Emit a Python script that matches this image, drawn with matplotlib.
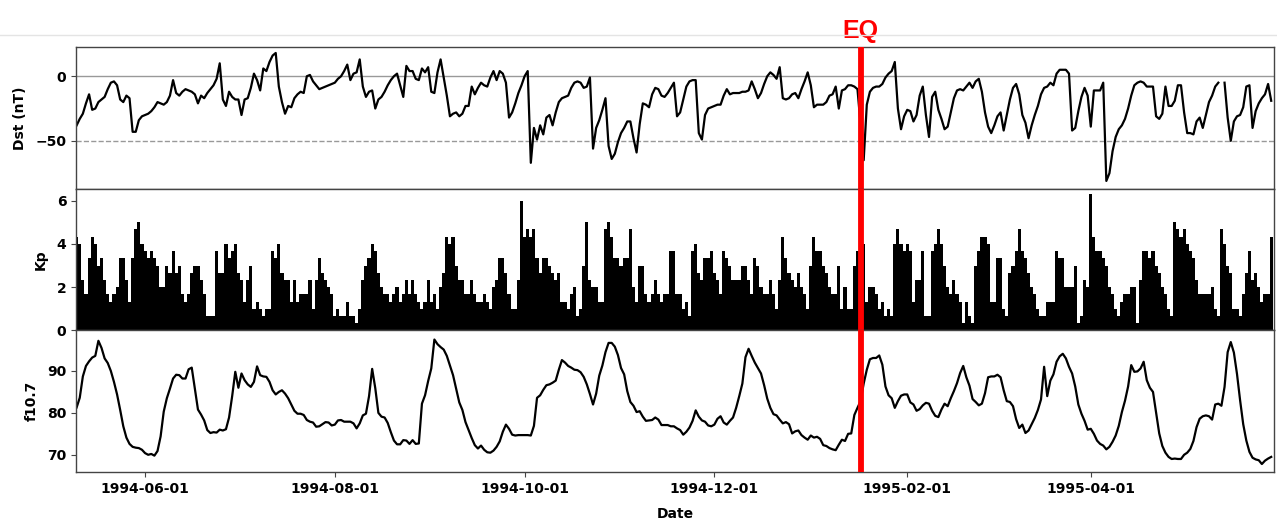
import numpy as np
import pandas as pd
import matplotlib
matplotlib.use("Agg")
import matplotlib.pyplot as plt
from matplotlib.lines import Line2D

# daily indices, starting 1994-05-10
start_date = "1994-05-10"
eq_date = "1995-01-17"

dst = [
    -38, -33, -29, -21, -14, -26, -25, -20, -18, -16,
    -10, -5, -4, -7, -18, -20, -15, -17, -43, -43,
    -34, -31, -30, -29, -27, -24, -20, -21, -22, -20,
    -15, -3, -13, -15, -12, -10, -11, -12, -14, -21,
    -15, -17, -13, -10, -7, -2, 10, -18, -23, -12,
    -16, -18, -18, -30, -18, -17, -9, 2, -3, -11,
    6, 4, 11, 16, 18, -8, -20, -29, -23, -24,
    -17, -14, -12, -13, 0, 1, -4, -7, -10, -9,
    -8, -7, -6, -5, -2, 0, 4, 9, -3, 2,
    3, 13, -8, -16, -12, -11, -25, -18, -16, -12,
    -7, -3, 0, 2, -7, -16, 8, 4, 4, -2,
    -3, 6, 3, 7, -12, -13, 3, 13, -1, -15,
    -31, -29, -28, -31, -29, -23, -23, -8, -14, -9,
    -5, -7, -8, -1, 4, -3, 4, 2, -5, -32,
    -28, -21, -13, -7, 0, 4, -67, -40, -49, -38,
    -45, -32, -30, -38, -28, -20, -17, -16, -15, -9,
    -5, -4, -5, -9, -8, -1, -56, -40, -34, -26,
    -17, -54, -64, -60, -51, -44, -40, -35, -35, -48,
    -59, -37, -21, -22, -24, -14, -9, -10, -15, -16,
    -13, -9, -5, -31, -28, -18, -8, -4, -3, -3,
    -44, -49, -30, -25, -24, -23, -22, -22, -15, -10,
    -14, -13, -13, -13, -12, -12, -11, -4, -10, -17,
    -13, -6, 0, 3, 1, -2, 7, -17, -18, -17,
    -14, -13, -17, -10, -4, 3, -7, -24, -22, -22,
    -22, -20, -15, -14, -8, -25, -11, -10, -7, -7,
    -8, -10, -38, -65, -22, -12, -9, -8, -8, -6,
    -1, 2, 4, 11, -25, -41, -31, -26, -27, -35,
    -30, -15, -8, -30, -47, -16, -12, -26, -33, -41,
    -39, -28, -17, -11, -10, -11, -8, -5, -9, -4,
    -2, -12, -28, -39, -44, -38, -31, -28, -42, -30,
    -18, -9, -6, -14, -30, -36, -48, -38, -30, -23,
    -14, -9, -8, -5, -7, 2, 5, 5, 5, 2,
    -42, -40, -27, -16, -9, -15, -39, -11, -11, -11,
    -5, -81, -75, -58, -47, -41, -38, -33, -25, -15,
    -7, -5, -4, -5, -8, -8, -8, -31, -33, -29,
    -8, -23, -23, -19, -7, -7, -28, -44, -44, -45,
    -35, -32, -40, -30, -20, -15, -8, -5, np.nan, -5,
    -32, -50, -35, -31, -30, -24, -8, -7, -40, -27,
    -21, -17, -14, -6, -19,
]

kp = [
    4.33, 4.0, 2.33, 1.67, 3.33, 4.33, 4.0, 3.0, 3.33, 2.33,
    1.67, 1.33, 1.67, 2.0, 3.33, 3.33, 2.33, 1.33, 3.33, 4.67,
    5.0, 4.0, 3.67, 3.33, 3.67, 3.33, 3.0, 2.0, 2.0,
    3.0, 2.67, 3.67, 2.67, 3.0, 1.67, 1.33, 1.67, 2.67, 3.0,
    3.0, 2.33, 1.67, 0.67, 0.67, 0.67, 3.67, 2.67, 2.67, 4.0,
    3.33, 3.67, 4.0, 2.67, 2.33, 1.33, 2.33, 3.0, 1.0, 1.33,
    1.0, 0.67, 1.0, 1.0, 3.67, 3.33, 4.0, 2.67, 2.33,
    2.33, 1.33, 2.33, 1.33, 1.67, 1.67, 1.67, 2.33, 1.0, 2.33,
    3.33, 2.67, 2.33, 2.0, 1.67, 0.67, 1.0, 0.67, 0.67, 1.33,
    0.67, 0.67, 0.33, 1.0, 2.33, 3.0, 3.33, 4.0, 3.67, 2.67,
    2.0, 1.67, 1.67, 1.33, 1.67, 2.0, 1.33, 1.67, 2.33,
    1.67, 2.33, 1.67, 1.33, 1.0, 1.33, 2.33,
    1.33, 1.67, 1.0, 2.0, 2.67, 4.33, 4.0, 4.33, 3.0, 2.33,
    2.33, 1.67, 1.67, 2.33, 1.67, 1.33, 1.33, 1.67, 1.33,
    1.0, 2.0, 2.33, 3.33, 3.33, 2.67, 1.67, 1.0, 1.0, 2.33,
    6.0, 4.33, 4.67, 4.33, 4.67, 3.33, 2.67, 3.33, 3.33, 3.0,
    2.67, 2.33, 2.67, 1.33, 1.33, 1.0, 1.67, 2.0, 0.67, 1.0,
    3.0, 5.0, 2.33, 2.0, 2.0, 1.33, 1.33, 4.67, 5.0, 4.33,
    3.33, 3.33, 3.0, 3.33, 3.33, 4.67, 2.0, 1.33, 3.0, 3.0,
    1.67, 1.33, 1.67, 2.33, 1.67, 1.33, 1.67, 1.67, 3.67, 3.67,
    1.67, 1.67, 1.0, 1.33, 0.67, 3.67, 4.0, 2.67, 2.33, 3.33,
    3.33, 3.67, 2.67, 2.33, 1.67, 3.67, 3.33, 3.0, 2.33, 2.33,
    2.33, 3.0, 3.0, 2.33, 1.67, 3.33, 3.0, 2.0, 1.67, 1.67,
    2.33, 1.67, 1.0, 2.33, 4.33, 3.33, 2.67, 2.33, 2.0, 2.67,
    2.0, 1.67, 1.0, 3.0, 4.33, 3.67, 3.67, 3.0, 2.67, 2.0,
    1.67, 1.67, 3.0, 1.0, 2.0, 1.0,
    1.0, 3.0, 3.67, 4.33, 4.0,
    1.33, 2.0, 2.0, 1.67, 1.0, 1.33, 0.67, 1.0, 0.67,
    4.0, 4.67, 4.0, 3.67, 4.0, 3.67, 1.33, 2.33,
    2.33, 3.67, 0.67, 0.67, 3.67, 4.0, 4.67, 4.0, 3.0, 2.0,
    1.67, 2.33, 1.67, 1.33, 0.33, 1.33, 0.67, 0.33,
    3.0, 3.67, 4.33, 4.33, 4.0, 1.33, 1.33, 3.33, 3.33, 1.0,
    0.67, 2.67, 3.0, 3.67, 4.67, 3.67, 3.33, 2.67,
    2.0, 1.67, 1.0, 0.67, 0.67, 1.33, 1.33, 1.33, 3.67,
    3.33, 3.33, 2.0, 2.0, 2.0, 3.0, 0.33, 0.67, 2.33,
    2.0, 6.33, 4.33, 3.67, 3.67, 3.33, 3.0, 2.0, 1.67, 1.0,
    0.67, 1.33, 1.67, 1.67, 2.0, 2.0, 0.33, 2.33, 3.67, 3.67,
    3.33, 3.67, 3.0, 2.67, 2.0, 1.67, 1.0, 0.67, 5.0, 4.67,
    4.33, 4.67, 4.0, 3.67, 3.33, 2.33, 1.67, 1.67, 1.67, 1.67,
    2.0, 1.0, 0.67, 4.67, 4.0, 3.0, 2.67, 1.0, 1.0, 0.67,
    1.67, 2.67, 3.67, 2.33, 2.67, 2.0, 1.33, 1.67, 1.67, 4.33,
]

f107 = [
    81.3, 83.6, 88.7, 91.2, 92.3, 93.2, 93.6, 97.2, 95.5, 93.0,
    91.9, 90.0, 87.4, 84.4, 80.7, 76.8, 74.1, 72.6, 71.9, 71.7,
    71.6, 71.2, 70.4, 70.0, 70.2, 69.8, 70.9, 74.4, 80.3, 83.5,
    85.8, 88.2, 89.1, 89.0, 88.2, 88.2, 90.4, 90.8, 85.8, 80.8,
    79.6, 78.2, 75.9, 75.2, 75.4, 75.3, 76.0, 75.8, 76.1, 78.9,
    84.0, 89.8, 86.0, 89.4, 87.8, 86.8, 86.2, 87.4, 91.1, 89.0,
    88.7, 88.6, 87.4, 85.4, 84.4, 85.0, 85.4, 84.6, 83.5, 82.0,
    80.5, 79.8, 79.8, 79.5, 78.3, 77.9, 77.7, 76.7, 76.8, 77.3,
    77.8, 77.7, 77.0, 77.2, 78.2, 78.3, 77.9, 77.9, 77.9, 77.5,
    76.3, 77.5, 79.4, 79.8, 84.0, 90.5, 85.9, 80.0, 79.1, 78.9,
    77.6, 75.4, 73.4, 72.5, 72.5, 73.5, 73.4, 72.6, 73.5, 72.6,
    72.7, 82.2, 84.2, 87.6, 90.6, 97.5, 96.4, 95.7, 95.1, 93.6,
    91.3, 89.0, 85.7, 82.5, 80.7, 77.8, 75.9, 74.0, 72.3, 71.5,
    72.2, 71.2, 70.6, 70.5, 71.0, 71.9, 73.2, 75.5, 77.2, 76.2,
    74.8, 74.6, 74.7, 74.7, 74.7, 74.7, 74.6, 76.9, 83.6, 84.2,
    85.5, 86.6, 86.8, 87.2, 87.7, 90.3, 92.6, 92.0, 91.2, 90.8,
    90.3, 90.2, 89.7, 88.6, 86.8, 84.5, 82.0, 84.6, 88.9, 91.3,
    94.5, 96.7, 96.7, 95.8, 93.8, 90.7, 89.2, 85.2, 82.6, 81.7,
    80.2, 80.4, 79.1, 78.1, 78.2, 78.3, 78.9, 78.4, 77.1, 77.1,
    77.1, 76.8, 76.8, 76.3, 75.9, 74.8, 75.5, 76.5, 78.1, 80.6,
    79.1, 78.2, 77.9, 77.0, 76.8, 77.2, 78.6, 79.2, 77.7, 77.2,
    78.1, 78.9, 81.2, 84.0, 87.0, 93.3, 95.3, 93.6, 92.0, 90.7,
    89.4, 86.6, 83.4, 81.2, 79.7, 79.4, 78.4, 77.5, 77.8, 77.3,
    75.1, 75.6, 75.8, 74.7, 74.1, 73.6, 74.6, 74.1, 74.3, 73.8,
    72.3, 72.1, 71.6, 71.3, 71.1, 72.4, 73.6, 73.3, 75.0, 75.1,
    79.5, 81.2, 82.8, 87.0, 90.3, 92.8, 93.1, 93.1, 93.7, 91.5,
    86.3, 84.2, 83.5, 81.2, 82.8, 84.1, 84.4, 84.4, 82.5, 82.0,
    80.5, 80.9, 81.8, 82.4, 82.2, 80.5, 79.3, 79.0, 80.8, 82.2,
    81.6, 83.5, 85.2, 87.1, 89.5, 91.2, 88.5, 86.5, 83.3, 82.6,
    81.8, 82.2, 84.7, 88.5, 88.7, 88.7, 89.1, 88.5, 85.4, 82.8,
    82.6, 81.6, 78.5, 76.4, 77.2, 75.2, 75.8, 77.3, 78.8, 80.7,
    83.2, 91.0, 84.0, 87.7, 89.2, 92.2, 93.5, 94.1, 93.0, 91.0,
    89.4, 86.3, 82.0, 79.8, 78.1, 76.0, 76.2, 75.0, 73.4, 72.6,
    72.2, 71.3, 71.9, 73.1, 74.6, 76.9, 80.2, 82.9, 86.3, 91.4,
    89.8, 89.9, 90.6, 92.2, 87.8, 86.0, 85.0, 80.1, 75.1, 72.1,
    70.5, 69.5, 69.0, 69.1, 69.0, 69.0, 70.0, 70.5, 71.4, 73.3,
    76.6, 78.6, 79.2, 79.4, 79.2, 78.4, 82.0, 82.2, 81.7, 86.2,
    94.5, 96.9, 94.4, 89.3, 83.0, 77.3, 73.4, 70.7, 69.3, 68.9,
    68.7, 67.8, 68.6, 69.1, 69.5,
]

dst_dates = pd.date_range(start_date, periods=len(dst), freq="D")
kp_dates = pd.date_range(start_date, periods=len(kp), freq="D")
f107_dates = pd.date_range(start_date, periods=len(f107), freq="D")
eq = pd.Timestamp(eq_date)

plt.rcParams["font.family"] = "DejaVu Sans"
plt.rcParams["font.weight"] = "bold"
plt.rcParams["font.size"] = 10
plt.rcParams["axes.labelweight"] = "bold"

fig, axes = plt.subplots(3, 1, sharex=True, figsize=(12.77, 5.19), dpi=100)
fig.subplots_adjust(left=0.0595, right=0.9977, top=0.9094, bottom=0.0906, hspace=0)
ax1, ax2, ax3 = axes

# Dst
ax1.axhline(0, color="#999999", lw=1.0, zorder=1)
ax1.axhline(-50, color="#999999", lw=1.0, ls="--", zorder=1)
ax1.plot(dst_dates, dst, color="black", lw=1.6, zorder=2)
ax1.set_ylim(-87, 22.6)
ax1.set_yticks([-50, 0])
ax1.set_ylabel("Dst (nT)", labelpad=6)

# Kp
ax2.bar(kp_dates, kp, width=1.0, color="black", linewidth=0)
ax2.set_ylim(0, 6.56)
ax2.set_yticks([0, 2, 4, 6])
ax2.set_ylabel("Kp", labelpad=6)

# f10.7
ax3.plot(f107_dates, f107, color="black", lw=1.6)
ax3.set_ylim(65.9, 99.7)
ax3.set_yticks([70, 80, 90])
ax3.set_ylabel("f10.7", labelpad=6)
ax3.set_xlabel("Date", labelpad=8)

for ax in axes:
    ax.axvline(eq, color="red", lw=4.2, zorder=5)
    for s in ax.spines.values():
        s.set_color("#444444")
        s.set_linewidth(1.0)
    ax.tick_params(axis="y", colors="#444444", labelcolor="black", length=3.5)

ax1.tick_params(axis="x", length=0)
ax2.tick_params(axis="x", length=0)
ax3.tick_params(axis="x", colors="#444444", labelcolor="black", length=3.5)

ticks = pd.to_datetime(["1994-06-01", "1994-08-01", "1994-10-01",
                        "1994-12-01", "1995-02-01", "1995-04-01"])
ax3.set_xticks(ticks)
ax3.set_xticklabels([t.strftime("%Y-%m-%d") for t in ticks])
ax3.set_xlim(pd.Timestamp("1994-05-09 19:00"), pd.Timestamp("1995-05-29 22:00"))

ax1.text(eq, 1.03, "EQ", transform=ax1.get_xaxis_transform(), color="red",
         fontsize=18, fontweight="bold", family="Liberation Sans",
         ha="center", va="bottom")

# thin page separator line above the plot
fig.add_artist(Line2D([0, 1], [1 - 35 / 519, 1 - 35 / 519], transform=fig.transFigure,
                      color="#e4e4e4", lw=1.0))

fig.savefig("out.png", dpi=100)
